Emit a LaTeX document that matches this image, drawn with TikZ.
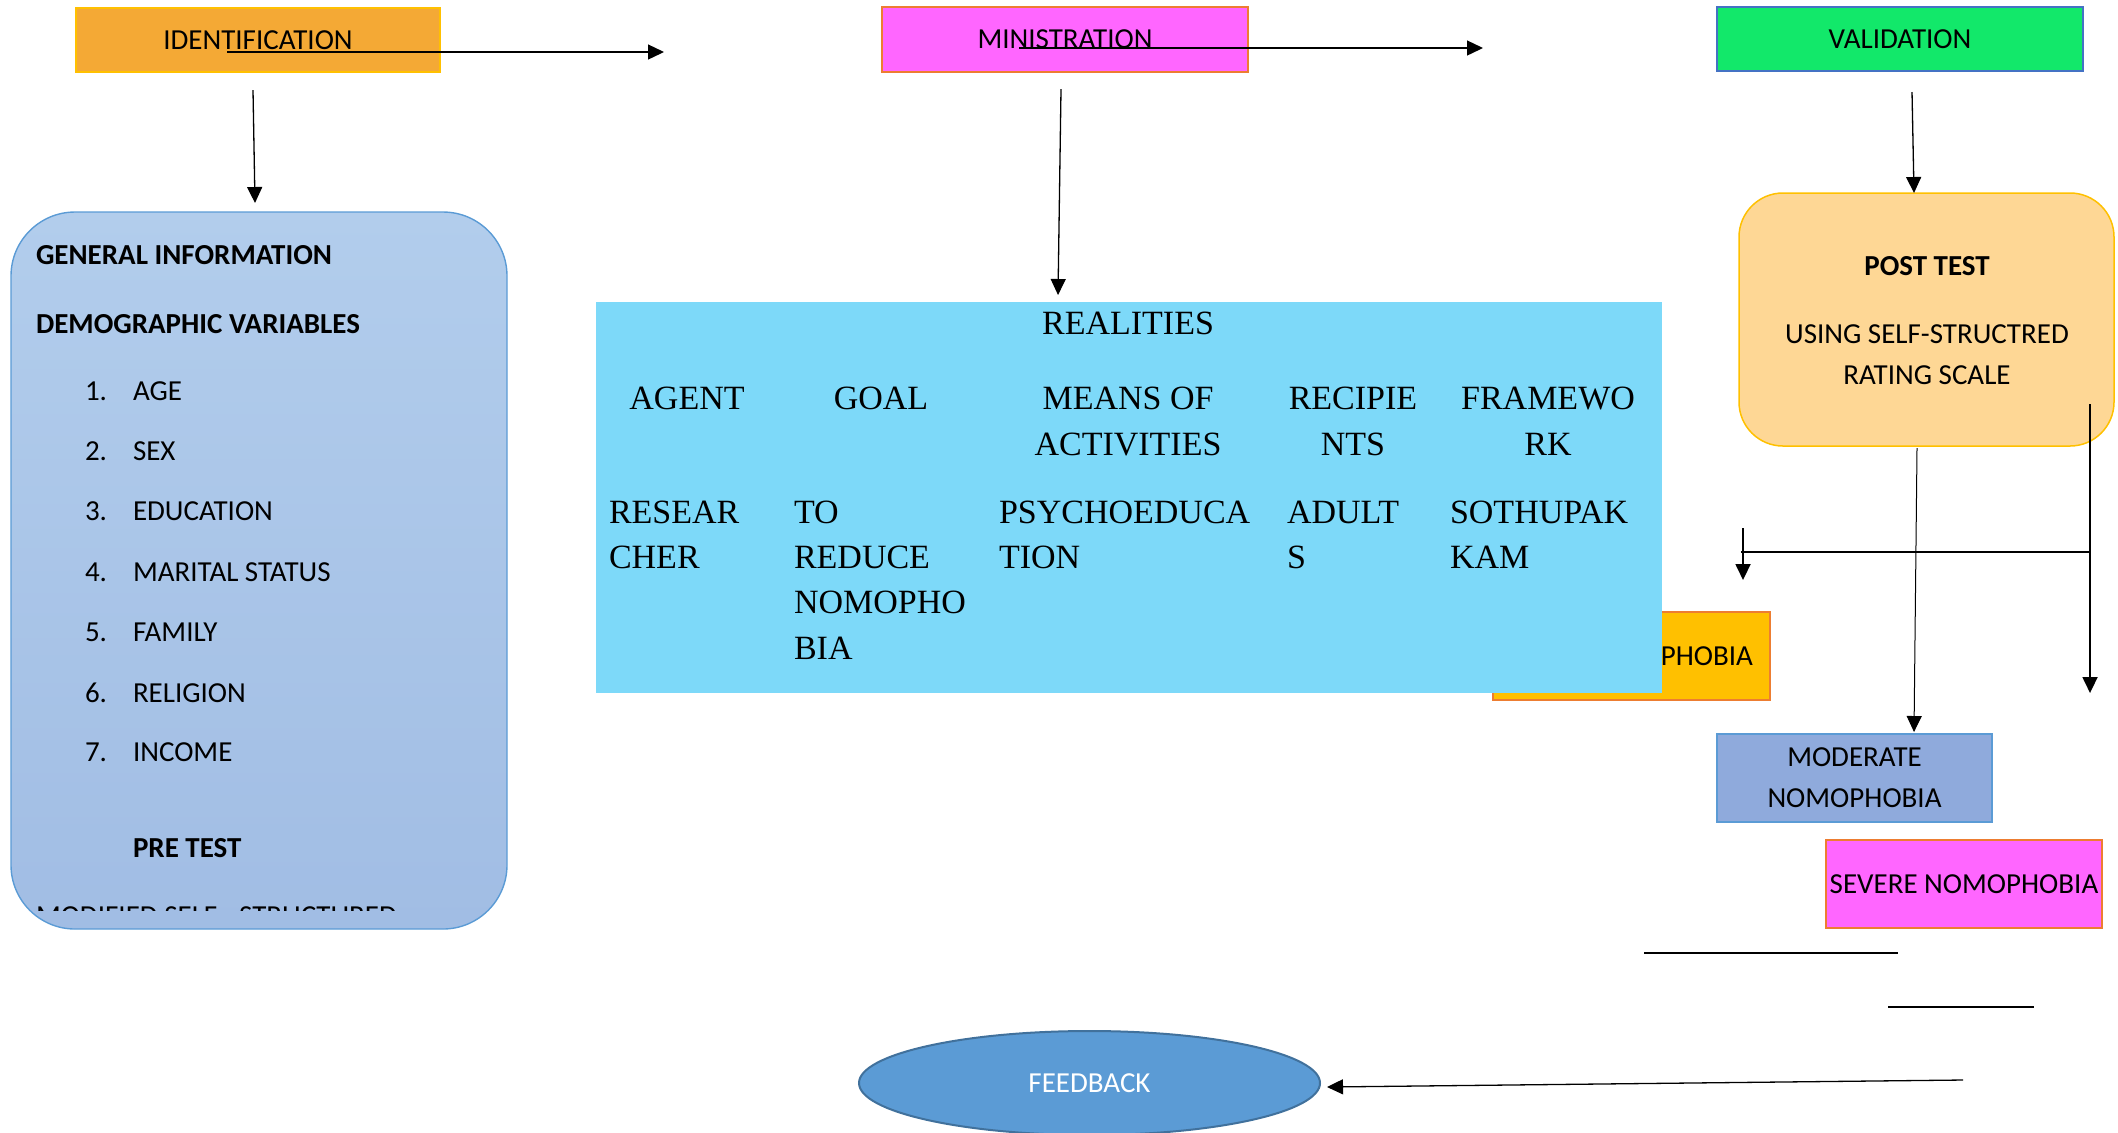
\documentclass[tikz,border=0pt]{standalone}
\usepackage{fontspec}
\setmainfont{Carlito}
\newfontfamily\timesf{Liberation Serif}
\usetikzlibrary{arrows.meta,shapes.geometric}
\definecolor{identfill}{HTML}{F4A935}
\definecolor{gold}{HTML}{FFC000}
\definecolor{orangeb}{HTML}{ED7D31}
\definecolor{magentaf}{HTML}{FF66FF}
\definecolor{greenf}{HTML}{12E86A}
\definecolor{blueb}{HTML}{4472C4}
\definecolor{lbtop}{HTML}{B2CDEC}
\definecolor{lbbot}{HTML}{A1BDE4}
\definecolor{lbborder}{HTML}{5B9BD5}
\definecolor{postfill}{HTML}{FED795}
\definecolor{realblue}{HTML}{7DD9F9}
\definecolor{modfill}{HTML}{8FAADC}
\definecolor{fbfill}{HTML}{5B9BD5}
\definecolor{fbborder}{HTML}{41719C}
\begin{document}
\begin{tikzpicture}[x=0.5pt,y=-0.5pt,
  box/.style={draw, line width=0.75pt, inner sep=0pt, outer sep=0pt, align=center,
              font=\fontsize{14.5}{20.5}\selectfont},
  cal/.style={inner sep=0pt, outer sep=0pt, font=\fontsize{14.5}{17}\selectfont},
  calb/.style={inner sep=0pt, outer sep=0pt, font=\fontsize{14.5}{17}\selectfont\bfseries},
  tms/.style={inner sep=0pt, outer sep=0pt, font=\timesf\fontsize{17}{20}\selectfont},
  arr/.style={-{Triangle[length=8pt,width=7.5pt]}, line width=0.65pt},
  thickln/.style={line width=0.9pt},
  plainln/.style={line width=1pt}]
\useasboundingbox (0,0) rectangle (2118,1132);

% top boxes
\node[box, fill=identfill, draw=gold, minimum width=182pt, minimum height=32pt] (ident) at (258,40) {IDENTIFICATION};
\node[box, fill=magentaf, draw=orangeb, minimum width=183pt, minimum height=32.5pt] (minis) at (1065,39.5) {MINISTRATION};
\node[box, fill=greenf, draw=blueb, minimum width=183pt, minimum height=32pt] (valid) at (1900,39) {VALIDATION};

% left info box
\node[draw=lbborder, line width=0.7pt, top color=lbtop, bottom color=lbbot, rounded corners=32pt,
      minimum width=248pt, minimum height=358.5pt, inner sep=0pt, outer sep=0pt] (general) at (259,570.5) {};
\node[calb, anchor=base west] (gi) at (36,264) {GENERAL INFORMATION};
\node[calb, anchor=base west] (dv) at (36,333) {DEMOGRAPHIC VARIABLES};
\node[cal, anchor=base west] (n1) at (85,400) {1.};
\node[cal, anchor=base west] (t1) at (133,400) {AGE};
\node[cal, anchor=base west] (n2) at (85,460) {2.};
\node[cal, anchor=base west] (t2) at (133,460) {SEX};
\node[cal, anchor=base west] (n3) at (85,520) {3.};
\node[cal, anchor=base west] (t3) at (133,520) {EDUCATION};
\node[cal, anchor=base west] (n4) at (85,581) {4.};
\node[cal, anchor=base west] (t4) at (133,581) {MARITAL STATUS};
\node[cal, anchor=base west] (n5) at (85,641) {5.};
\node[cal, anchor=base west] (t5) at (133,641) {FAMILY};
\node[cal, anchor=base west] (n6) at (85,702) {6.};
\node[cal, anchor=base west] (t6) at (133,702) {RELIGION};
\node[cal, anchor=base west] (n7) at (85,761) {7.};
\node[cal, anchor=base west] (t7) at (133,761) {INCOME};
\node[calb, anchor=base west] (pre) at (133,857) {PRE TEST};
\begin{scope}
  \clip (0,880) rectangle (600,910);
  \node[cal, anchor=base west] (mod) at (36,925) {MODIFIED SELF - STRUCTURED};
\end{scope}

% post test box
\node[draw=gold, line width=0.75pt, fill=postfill, rounded corners=22pt,
      minimum width=187.5pt, minimum height=126.5pt, inner sep=0pt, outer sep=0pt] (post) at (1926.5,319.5) {};
\node[calb, anchor=base] (pt1) at (1927,275) {POST TEST};
\node[cal, anchor=base] (pt2) at (1927,343) {USING SELF-STRUCTRED};
\node[cal, anchor=base] (pt3) at (1927,384) {RATING SCALE};

% level boxes
\node[box, fill=gold, draw=orangeb, minimum width=138.5pt, minimum height=44pt] (mild) at (1631.5,656) {MILD NOMOPHOBIA};
\node[box, fill=modfill, draw=lbborder, minimum width=137.5pt, minimum height=44pt] (moderate) at (1854.5,778) {MODERATE\\NOMOPHOBIA};
\node[box, fill=magentaf, draw=orangeb, minimum width=138pt, minimum height=44pt] (severe) at (1964,884) {SEVERE NOMOPHOBIA};

% realities box
\node[fill=realblue, minimum width=533pt, minimum height=195.5pt, inner sep=0pt, outer sep=0pt] (real) at (1129,497.5) {};
\node[tms, anchor=base] (rt) at (1128,334) {REALITIES};
\node[tms, anchor=base] (h1) at (687,409) {AGENT};
\node[tms, anchor=base] (h2) at (881,409) {GOAL};
\node[tms, anchor=base] (h3a) at (1128,409) {MEANS OF};
\node[tms, anchor=base] (h3b) at (1128,455) {ACTIVITIES};
\node[tms, anchor=base] (h4a) at (1353,409) {RECIPIE};
\node[tms, anchor=base] (h4b) at (1353,455) {NTS};
\node[tms, anchor=base] (h5a) at (1548,409) {FRAMEWO};
\node[tms, anchor=base] (h5b) at (1548,455) {RK};
\node[tms, anchor=base west] (d1a) at (609,523) {RESEAR};
\node[tms, anchor=base west] (d1b) at (609,568) {CHER};
\node[tms, anchor=base west] (d2a) at (794,523) {TO};
\node[tms, anchor=base west] (d2b) at (794,568) {REDUCE};
\node[tms, anchor=base west] (d2c) at (794,613) {NOMOPHO};
\node[tms, anchor=base west] (d2d) at (794,659) {BIA};
\node[tms, anchor=base west] (d3a) at (999,523) {PSYCHOEDUCA};
\node[tms, anchor=base west] (d3b) at (999,568) {TION};
\node[tms, anchor=base west] (d4a) at (1287,523) {ADULT};
\node[tms, anchor=base west] (d4b) at (1287,568) {S};
\node[tms, anchor=base west] (d5a) at (1450,523) {SOTHUPAK};
\node[tms, anchor=base west] (d5b) at (1450,568) {KAM};

% feedback
\node[ellipse, draw=fbborder, line width=1pt, fill=fbfill, text=white, minimum width=230.5pt, minimum height=52pt,
      inner sep=0pt, outer sep=0pt, font=\fontsize{14.5}{17}\selectfont] (feedback) at (1089.5,1083) {FEEDBACK};

% coordinates for free ends
\coordinate (a1s) at (227,52);
\coordinate (a1e) at (664,52);
\coordinate (a2s) at (253,90);
\coordinate (a2e) at (255,203);
\coordinate (a3s) at (1019,48);
\coordinate (a3e) at (1483,48);
\coordinate (a4s) at (1061,89);
\coordinate (a4e) at (1058,295);
\coordinate (a5s) at (1912,92);
\coordinate (a5e) at (1914,193);
\coordinate (rs) at (2090,404);
\coordinate (rm) at (2090,552);
\coordinate (re) at (2090,693);
\coordinate (lm) at (1741,552);
\coordinate (ls) at (1743,528);
\coordinate (le) at (1743,580);
\coordinate (ms) at (1917,448);
\coordinate (me) at (1914,732);
\coordinate (fs) at (1963,1080);
\coordinate (fe) at (1327,1087);
\coordinate (b1s) at (1644,953);
\coordinate (b1e) at (1898,953);
\coordinate (b2s) at (1888,1007);
\coordinate (b2e) at (2034,1007);

% connectors
\draw[arr] (a1s) -- (a1e);
\draw[arr] (a2s) -- (a2e);
\draw[arr] (a3s) -- (a3e);
\draw[arr] (a4s) -- (a4e);
\draw[arr] (a5s) -- (a5e);
\draw[arr, thickln] (rs) -- (re);
\draw[thickln] (rm) -- (lm);
\draw[arr, thickln] (ls) -- (le);
\draw[arr, line width=0.5pt] (ms) -- (me);
\draw[arr] (fs) -- (fe);
\draw[plainln] (b1s) -- (b1e);
\draw[plainln] (b2s) -- (b2e);
\end{tikzpicture}
\end{document}
